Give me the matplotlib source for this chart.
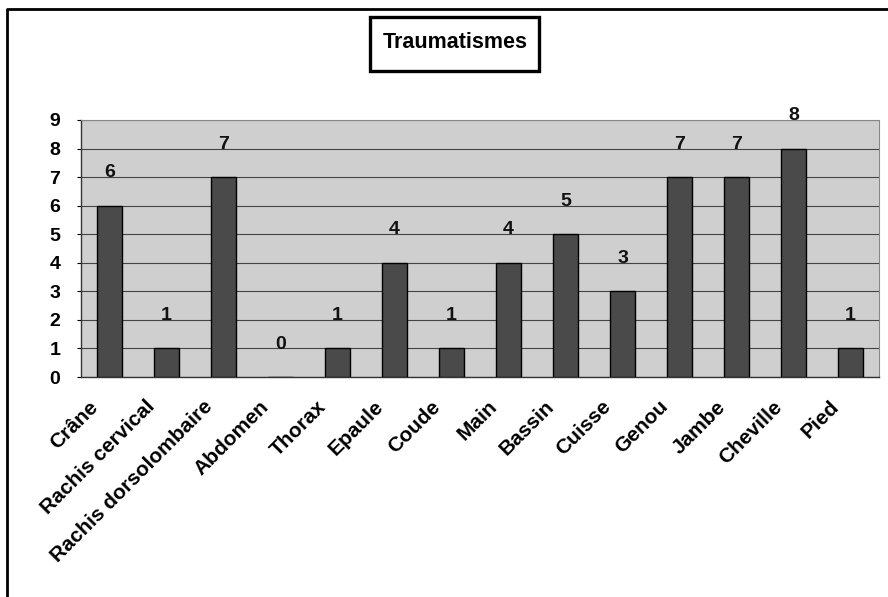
import matplotlib
matplotlib.use("Agg")
import matplotlib.pyplot as plt
from matplotlib.patches import Rectangle
from matplotlib.lines import Line2D
from matplotlib.transforms import ScaledTranslation

categories = ["Crâne", "Rachis cervical", "Rachis dorsolombaire", "Abdomen", "Thorax",
              "Epaule", "Coude", "Main", "Bassin", "Cuisse", "Genou", "Jambe", "Cheville", "Pied"]
values = [6, 1, 7, 0, 1, 4, 1, 4, 5, 3, 7, 7, 8, 1]
yticks = list(range(0, 10))
title = "Traumatismes"

plt.rcParams['font.family'] = ['Liberation Sans', 'DejaVu Sans']

W, H = 888, 597
fig = plt.figure(figsize=(W / 100, H / 100), dpi=100)
fig.patch.set_facecolor("white")

# outer border: only top and left edges visible
fig.add_artist(Line2D([7 / W, 7 / W, 1.0], [0.0, 1 - 9 / H, 1 - 9 / H], transform=fig.transFigure,
                      color="black", linewidth=2.0))

left, right, top, bottom = 81, 879, 120, 377
ax = fig.add_axes([left / W, 1 - bottom / H, (right - left) / W, (bottom - top) / H])
ax.set_facecolor("#cfcfcf")

x = list(range(len(categories)))
ax.bar(x, values, width=0.44, color="#4a4a4a", edgecolor="black", linewidth=1.0, zorder=3)
for xi, v in zip(x, values):
    ax.text(xi, v + 1.15, str(v), ha="center", va="center", fontsize=14, fontweight="bold",
            color="#111111", zorder=4)

ax.set_xlim(-0.5, len(categories) - 0.5)
ax.set_ylim(0, 9)
ax.set_yticks(yticks)
ax.set_yticklabels([str(t) for t in yticks], fontsize=14, fontweight="bold")
ax.yaxis.grid(True, color="#444444", linewidth=0.8, zorder=1)
ax.set_axisbelow(True)
ax.set_xticks(x)
ax.set_xticklabels([])
ax.tick_params(axis="x", length=0)
shift = ScaledTranslation(-21 / 100, -20 / 100, fig.dpi_scale_trans)
for xi, cat in zip(x, categories):
    ax.text(xi, 0, cat, transform=ax.get_xaxis_transform() + shift, rotation=45,
            ha="right", va="top", rotation_mode="anchor", fontsize=15, fontweight="bold",
            clip_on=False)
ax.tick_params(axis="y", length=3, pad=12)
for s in ["top", "right"]:
    ax.spines[s].set_color("#888888")
    ax.spines[s].set_linewidth(0.8)
for s in ["left", "bottom"]:
    ax.spines[s].set_color("#333333")
    ax.spines[s].set_linewidth(1.0)

# title box
fig.add_artist(Rectangle((370 / W, 1 - 71 / H), (539 - 370) / W, (71 - 17) / H,
                         transform=fig.transFigure, facecolor="white", edgecolor="black",
                         linewidth=2.4))
fig.text(455 / W, 1 - 43 / H, title, ha="center", va="center", fontsize=15.5, fontweight="bold")

fig.savefig("out.png", dpi=100)
